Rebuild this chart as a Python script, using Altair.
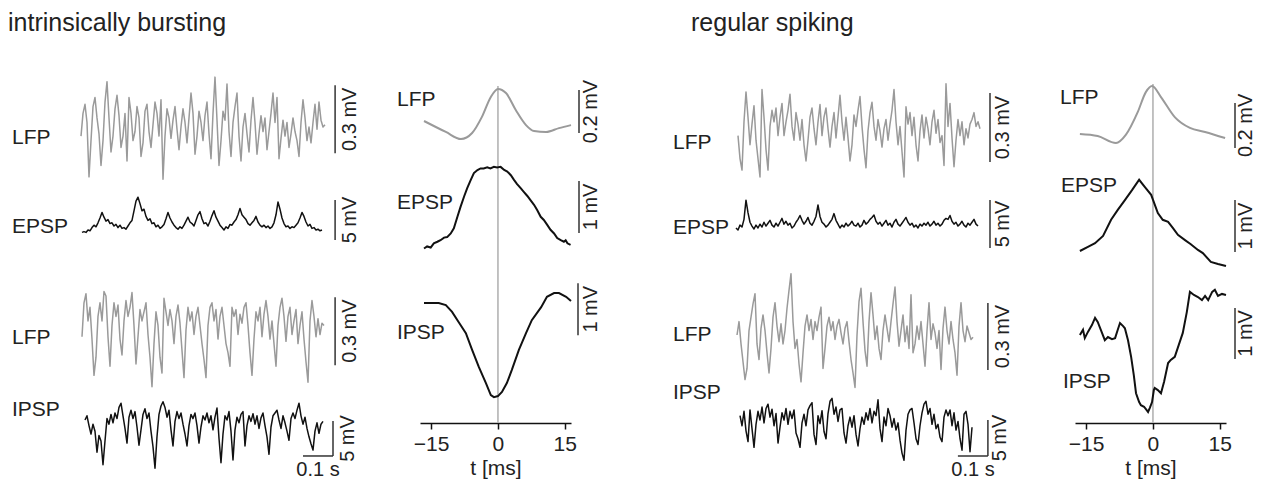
import altair as alt
import pandas as pd

FONT = "Liberation Sans"
GREY = "#9a9a9a"
BLACK = "#111111"
INK = "#222222"
DT = 1 / 150.0  # s per sample

# ---------------- raw traces (LFP in uV, PSP in mV) ----------------
IB_LFP1 = [-40, 60, 100, 20, -220, -60, 90, 130, 40, -30, -170, -60, 110, 200, 40, -110, -40, 80, 140, 50,
           -90, -40, 60, -150, 130, 60, -60, -20, 90, 40, -130, -70, 70, 100, -20, -90, 10, 110, 60, -40,
           120, -230, -40, 80, 40, -50, 30, 90, -10, -100, 0, 80, 20, -70, 40, 150, 60, -120, -40, 70,
           20, -60, 50, 110, -30, -140, 60, 220, 30, -170, -60, 70, 30, 190, -20, -130, 20, 90, 150, -40,
           -150, 0, 60, -30, -110, 30, 130, 20, -120, -30, 50, -20, 40, -100, -20, 60, 150, 20, 130, -140,
           -50, 30, -40, 20, -90, -30, 40, -20, -60, -130, 20, 120, 40, -60, 0, -70, 20, 100, -10, 110,
           30, 0, 10]
IB_EPSP = [-0.3, -0.2, -0.3, 0.0, -0.1, 0.3, 0.6, 0.4, 0.9, 1.5, 2.2, 1.6, 1.1, 1.3, 0.8, 0.9, 0.5, 0.7, 0.3, 0.6,
           0.2, 0.3, 0.1, 0.5, 0.9, 1.2, 2.4, 3.6, 4.1, 3.3, 2.4, 2.6, 1.7, 1.2, 1.4, 0.8, 0.9, 0.4, 0.6, 0.2,
           0.4, 0.7, 1.4, 2.2, 1.5, 1.0, 0.6, 0.3, 0.1, 0.4, 0.2, 0.6, 1.1, 1.6, 1.0, 0.8, 0.5, 1.2, 1.9, 2.3,
           1.4, 0.8, 0.9, 0.5, 1.1, 1.8, 2.4, 1.6, 1.1, 0.6, 0.3, 0.0, 0.4, 0.2, 0.7, 0.6, 1.0, 1.3, 1.9, 2.7,
           1.9, 1.6, 1.3, 0.8, 0.6, 0.9, 1.2, 1.7, 1.0, 0.6, 0.4, 0.6, 0.3, 0.5, 0.2, 0.4, 0.9, 1.9, 3.5, 2.6,
           1.5, 0.8, 0.4, 0.5, 0.2, 0.4, 0.3, 0.6, 0.9, 1.5, 2.2, 1.7, 1.0, 0.5, 0.7, 0.2, 0.3, 0.0, 0.1, -0.1,
           0.0]
IB_LFP2 = [-30, 120, 160, 40, 100, -40, -200, -120, 60, 120, 40, 170, 150, -30, -160, 20, 120, 60, 110, -40,
           -110, 40, 130, 60, 100, 165, 20, -150, -30, 90, 40, 80, 120, -20, -120, -250, -60, 80, 20, -120,
           -190, 140, 80, 20, 90, 40, -60, 60, 110, 30, -90, -210, 0, 100, 40, 80, -20, 60, 100, 20,
           -60, -130, -210, 20, 100, 120, 40, 90, -40, 60, 100, 20, -60, -100, -160, 100, 60, 90, -20, 70,
           30, 100, 120, 20, -100, -200, -40, 80, 40, 100, -30, 70, 130, 60, -40, 40, -60, -160, 20, 100,
           140, 60, -50, 60, 100, -20, 40, 90, -60, 20, 80, -40, -140, -230, 40, 130, 60, -30, 50, -20,
           30, 20]
IB_IPSP = [0.0, 0.6, -0.8, -2.0, -0.6, -1.6, -4.6, -2.2, -3.0, -6.4, -3.0, 0.2, -0.6, 0.8, -0.4, 1.0, 0.2, 1.8, 2.4, 0.6,
           -1.2, -3.3, 0.4, 1.4, 0.2, 1.2, -1.0, -3.6, -1.4, 0.8, 1.6, 0.2, 1.0, -1.6, -3.8, -6.9, -2.4, 0.8, 2.0, 2.6,
           1.8, 0.4, 1.4, -1.4, -3.7, -0.2, 1.2, 0.2, 1.0, -0.6, -2.0, -3.7, -0.8, 0.8, 0.2, 1.0, -0.8, -3.3, -1.0, 0.6,
           0.0, 1.0, -0.4, 0.6, -1.4, 0.4, 1.7, -2.6, -6.1, -2.0, 0.6, 0.0, 1.2, -1.6, -5.7, -1.4, 0.4, -0.4, 0.8, 1.2,
           -3.7, -0.8, 0.6, -0.2, 0.9, -0.6, 0.6, -1.2, 0.3, 1.0, -0.8, -2.4, -4.9, -1.0, 0.6, 1.0, 1.4, 0.0, -1.2, 0.6,
           -0.4, -1.6, -2.9, 0.2, 1.0, 0.2, 1.4, 2.4, 0.6, -0.6, 0.4, -1.2, -2.4, -3.4, -4.3, -1.6, -0.4, -1.9, -0.6, -0.2]

RS_LFP1 = [-20, -120, -170, 40, 170, 60, -60, 30, 110, -40, -120, -200, 180, 60, -80, -170, 20, 90, 40, 100,
           -20, 60, 120, -20, 40, 90, 160, 20, -40, 80, 30, -40, 50, -60, -130, -40, 60, 100, 10, -60,
           40, 115, -20, 60, 100, 10, -70, 20, 80, -30, 60, 155, 40, -40, 60, -30, -130, -60, 70, 20,
           90, 150, 20, -80, -160, 0, 80, 125, 20, -40, 50, 0, -70, 10, 50, -40, 30, 90, 180, 40,
           -60, 20, -90, -200, 105, 30, 80, -20, 60, -60, -130, 0, 70, -30, 60, 10, -60, 40, 90, -10,
           50, -50, -20, -150, 205, 20, 120, -30, -155, -40, 50, -20, 40, -60, 10, -30, 30, 50, 80, 20,
           40, 10]
RS_EPSP = [0.0, -0.2, 0.3, 0.1, 0.9, 2.9, 1.6, 0.6, 0.2, -0.1, 0.3, 0.0, 0.4, 0.1, 0.6, 0.2, 0.5, 0.8, 0.3, 0.1,
           0.5, 0.2, 0.6, 1.0, 0.4, 0.7, 0.3, 0.5, 0.0, 0.2, 0.6, 0.9, 1.3, 0.8, 0.4, 0.7, 1.1, 0.5, 0.3, 0.7,
           1.2, 2.4, 1.2, 0.6, 0.4, 0.1, 0.3, 0.6, 0.9, 1.5, 0.8, 0.4, 0.0, 0.3, 0.1, 0.5, 0.2, 0.4, 0.7, 0.3,
           0.2, 0.5, 0.1, 0.3, 0.8, 0.4, 0.6, 0.9, 1.1, 1.35, 0.7, 0.4, 0.6, 0.2, 0.5, 0.8, 0.3, 0.5, 0.1, 0.6,
           0.9, 0.4, 0.2, 0.5, 0.8, 1.1, 0.6, 0.3, 0.5, 0.1, 0.3, 0.0, 0.4, 0.2, 0.5, 0.3, 0.6, 0.2, 0.4, 0.7,
           0.3, 0.5, 0.2, 0.4, 0.8, 1.0, 0.9, 1.3, 0.7, 0.4, 0.6, 0.2, 0.4, 0.7, 0.3, 0.1, 0.5, 0.3, 0.6, 0.9,
           0.4, 0.2]
RS_LFP2 = [0, 60, -40, -120, -200, -150, 20, 80, 140, 185, -40, -110, 30, 90, 20, -80, -170, -60, 80, 145,
           40, -30, 50, -40, 20, 120, 200, 275, 60, -60, -20, -130, -210, -80, 40, 90, 20, 70, -20, 60,
           20, 80, 125, -150, -60, 40, 80, 20, 60, -20, 40, 70, 10, -40, 30, 60, -30, -110, -170, -235,
           0, 150, 210, 60, -70, -140, 60, 190, 90, -20, 40, -60, -110, 20, 90, 30, -30, 60, 140, 215,
           60, -50, 20, 90, -30, 40, -60, 180, -80, -40, 40, -20, 60, -40, -140, 20, 145, -20, 50, 10,
           -60, 20, -155, 30, 125, 20, -40, 60, -20, -80, -180, 40, 145, 20, -30, 40, 10, -20, -10]
RS_IPSP = [0.6, -0.8, 1.2, -1.5, -3.0, 1.4, -1.2, -3.8, -0.6, 1.2, 0.0, 1.8, -0.4, 1.6, 2.2, 0.4, 1.5, -0.8, 0.9, -3.2,
           -1.0, 1.0, 0.0, 1.6, -0.6, 1.2, 0.2, 1.4, -1.8, -2.6, -3.8, -0.4, 0.8, -0.8, 1.4, 2.0, 2.4, -2.0, -3.4, 0.6,
           -0.5, 1.3, -1.6, -2.6, 0.9, 2.6, 3.0, 0.8, 1.8, -0.2, 1.4, 1.6, -1.8, -3.2, -0.8, 0.4, -1.0, 0.6, -2.0, -3.6,
           -1.2, 0.4, -0.6, 1.0, 0.0, 1.6, -0.4, 1.2, 0.6, 2.8, -1.2, -3.0, 0.4, -0.8, 1.6, 0.6, -1.0, 0.2, -1.4, -0.4,
           -2.8, -4.6, -5.6, -1.4, 0.8, 1.4, 1.6, -0.4, -2.6, -3.4, -0.8, 1.0, 2.2, 2.6, 0.8, 1.6, -0.6, 0.8, -1.2, -0.6,
           -2.4, -3.0, 0.4, 1.4, 0.6, 1.4, -0.8, 1.0, -1.4, -0.2, -2.6, -4.2, 0.8, 1.2, -0.6, -4.4, -1.0]

# ---------------- spike-triggered averages (t in ms) ----------------
IB_AVG_LFP_T = [-16.6, -11.7, -8.3, -5.8, -3.6, -1.6, 0.0, 1.8, 4.0, 6.3, 8.1, 10.8, 13.7, 16.4]
IB_AVG_LFP_V = [0, -51, -84, -56, 19, 112, 149, 130, 51, -19, -47, -51, -33, -19]
IB_AVG_EPSP_T = [-16.6, -15.9, -15.1, -14.4, -13.6, -12.9, -12.1, -11.4, -10.6, -9.9, -9.1, -8.4, -7.6, -6.9,
                 -6.1, -5.4, -4.6, -3.9, -3.2, -2.4, -1.7, -0.9, -0.2, 0.6, 1.4, 2.1, 2.9, 3.6, 4.3, 5.1,
                 5.8, 6.6, 7.3, 8.1, 8.8, 9.6, 10.3, 11.1, 11.8, 12.6, 13.3, 14.1, 14.8, 15.2, 15.6, 16.3]
IB_AVG_EPSP_V = [-0.01, 0.03, 0.01, 0.09, 0.12, 0.15, 0.20, 0.21, 0.28, 0.38, 0.60, 0.79, 0.99, 1.15,
                 1.31, 1.44, 1.50, 1.53, 1.53, 1.55, 1.53, 1.56, 1.55, 1.56, 1.50, 1.47, 1.40, 1.31, 1.23, 1.15,
                 1.08, 1.00, 0.92, 0.83, 0.73, 0.60, 0.54, 0.44, 0.35, 0.28, 0.19, 0.15, 0.12, 0.15, 0.09, 0.06]
IB_AVG_IPSP_T = [-16.6, -15.1, -13.3, -11.7, -10.3, -8.8, -7.2, -5.8, -4.3, -2.7, -1.6, -0.9, 0.0, 0.9, 2.0,
                 3.1, 4.7, 6.3, 7.6, 9.7, 11.0, 12.6, 13.7, 15.3, 16.4]
IB_AVG_IPSP_V = [0.0, 0.0, 0.0, -0.04, -0.17, -0.37, -0.58, -0.90, -1.23, -1.54, -1.77, -1.81, -1.79, -1.71,
                 -1.54, -1.29, -0.90, -0.58, -0.33, -0.08, 0.12, 0.19, 0.19, 0.12, 0.04]

RS_AVG_LFP_T = [-16.4, -12.4, -8.3, -6.1, -3.4, -1.6, -0.2, 1.8, 4.9, 8.3, 11.7, 16.2]
RS_AVG_LFP_V = [0, -9, -40, -4, 98, 186, 213, 164, 75, 27, 9, -18]
RS_AVG_EPSP_T = [-16.4, -14.6, -13.0, -11.2, -9.4, -7.9, -6.3, -4.7, -3.1, -1.8, -0.4, 1.1, 2.2, 3.4, 4.5,
                 5.6, 7.2, 8.5, 10.1, 11.2, 13.0, 14.6, 16.4]
RS_AVG_EPSP_V = [0.0, 0.08, 0.15, 0.29, 0.60, 0.79, 0.98, 1.17, 1.37, 1.23, 1.08, 0.73, 0.60, 0.56, 0.44,
                 0.31, 0.21, 0.13, 0.02, -0.04, -0.21, -0.25, -0.29]
RS_AVG_IPSP_T = [-16.4, -15.7, -15.3, -14.6, -13.7, -13.0, -12.4, -11.7, -10.8, -10.1, -9.2, -8.5, -7.9, -7.4,
                 -6.7, -6.3, -5.6, -4.9, -4.3, -3.8, -3.1, -2.7, -2.0, -1.1, -0.7, -0.2, 0.2, 0.4, 1.1, 1.8,
                 2.5, 3.4, 4.0, 4.9, 5.8, 6.7, 7.6, 8.3, 9.2, 10.1, 11.0, 11.7, 12.4, 13.3, 13.9, 14.6, 15.5, 16.4]
RS_AVG_IPSP_V = [0.0, 0.10, -0.06, 0.06, 0.19, 0.33, 0.25, 0.10, -0.10, -0.04, -0.08, -0.06, 0.10, 0.23,
                 0.17, 0.13, -0.10, -0.42, -0.77, -1.12, -1.29, -1.35, -1.38, -1.48, -1.40, -1.29, -1.06, -1.02,
                 -1.06, -1.12, -0.90, -0.54, -0.48, -0.42, -0.19, 0.04, 0.44, 0.83, 0.77, 0.73, 0.67, 0.75,
                 0.67, 0.83, 0.87, 0.75, 0.79, 0.77]

TITLES = ["intrinsically bursting", "regular spiking"]

RAW_W = 279
RAW_XDOM = [0, 0.93]
AVG_W = 151
AVG_XDOM = [-17.5, 16.4]
LAB = 21


def txt(s, x, y, size=LAB, align="left", angle=0):
    kw = dict(align=align, baseline="middle", fontSize=size, font=FONT, color=INK)
    if angle:
        kw["angle"] = angle
    return alt.Chart(pd.DataFrame({"s": [s]})).mark_text(**kw).encode(
        x=alt.value(x), y=alt.value(y), text="s:N")


def raw_panel(vals, t0, color, h, zero_px, ppu, label, lab_x, lab_y,
              bar_t, bar_lo, bar_hi, bar_txt, bar_txt_x, tbar=None, title=None):
    ydom = [-(h - zero_px) / ppu, zero_px / ppu]
    xs = alt.Scale(domain=RAW_XDOM, nice=False, zero=False)
    ys = alt.Scale(domain=ydom, nice=False, zero=False)
    df = pd.DataFrame({"t": [t0 + i * DT for i in range(len(vals))], "v": vals})
    line = alt.Chart(df).mark_line(color=color, strokeWidth=1.5, strokeJoin="round").encode(
        x=alt.X("t:Q", scale=xs, axis=None), y=alt.Y("v:Q", scale=ys, axis=None))
    bar = alt.Chart(pd.DataFrame({"t": [bar_t], "v": [bar_lo], "v2": [bar_hi]})).mark_rule(
        color="#333333", strokeWidth=1.5).encode(
        x=alt.X("t:Q", scale=xs, axis=None), y=alt.Y("v:Q", scale=ys, axis=None), y2="v2:Q")
    btxt = alt.Chart(pd.DataFrame({"v": [(bar_lo + bar_hi) / 2], "s": [bar_txt]})).mark_text(
        angle=270, fontSize=20, font=FONT, color=INK, align="center", baseline="middle").encode(
        x=alt.value(bar_txt_x), y=alt.Y("v:Q", scale=ys, axis=None), text="s:N")
    layers = [line, bar, btxt, txt(label, lab_x, lab_y)]
    if tbar is not None:
        t1, t2, tlabel, tx, ty = tbar
        hb = alt.Chart(pd.DataFrame({"t": [t1], "t2": [t2], "v": [bar_lo]})).mark_rule(
            color="#333333", strokeWidth=1.5).encode(
            x=alt.X("t:Q", scale=xs, axis=None), x2="t2:Q", y=alt.Y("v:Q", scale=ys, axis=None))
        layers += [hb, txt(tlabel, tx, ty, size=20, align="center")]
    if title is not None:
        s, tx, ty = title
        layers.append(txt(s, tx, ty, size=25))
    return alt.layer(*layers).properties(width=RAW_W, height=h)


def avg_panel(t, v, color, h, zero_px, ppu, label, lab_x, lab_y, bar_x, bar_lo, bar_hi, bar_txt,
              bar_txt_x, vtop=0, axis=False, interp="linear"):
    ydom = [-(h - zero_px) / ppu, zero_px / ppu]
    xs = alt.Scale(domain=AVG_XDOM, nice=False, zero=False)
    ys = alt.Scale(domain=ydom, nice=False, zero=False)
    if axis:
        ax = alt.Axis(values=[-15, 0, 15], title="t [ms]", grid=False, tickSize=6, tickWidth=1.5,
                      domainWidth=1.5, domainColor=BLACK, tickColor=BLACK, labelColor=INK,
                      titleColor=INK, labelFont=FONT, titleFont=FONT, labelFontSize=21,
                      titleFontSize=21, titleFontWeight="normal", labelPadding=4, titlePadding=3)
    else:
        ax = None
    vline = alt.Chart(pd.DataFrame({"t": [0.0]})).mark_rule(color="#b3b3b3", strokeWidth=1.6).encode(
        x=alt.X("t:Q", scale=xs, axis=ax), y=alt.value(vtop), y2=alt.value(h))
    df = pd.DataFrame({"t": t, "v": v})
    line = alt.Chart(df).mark_line(color=color, strokeWidth=2, interpolate=interp).encode(
        x=alt.X("t:Q", scale=xs, axis=ax), y=alt.Y("v:Q", scale=ys, axis=None))
    bar = alt.Chart(pd.DataFrame({"v": [bar_lo], "v2": [bar_hi]})).mark_rule(
        color="#333333", strokeWidth=1.5).encode(
        x=alt.value(bar_x), y=alt.Y("v:Q", scale=ys, axis=None), y2="v2:Q")
    btxt = alt.Chart(pd.DataFrame({"v": [(bar_lo + bar_hi) / 2], "s": [bar_txt]})).mark_text(
        angle=270, fontSize=20, font=FONT, color=INK, align="center", baseline="middle").encode(
        x=alt.value(bar_txt_x), y=alt.Y("v:Q", scale=ys, axis=None), text="s:N")
    return alt.layer(vline, line, bar, btxt, txt(label, lab_x, lab_y)).properties(width=AVG_W, height=h)


# ---------------- intrinsically bursting ----------------
ib_raw = alt.vconcat(
    raw_panel(IB_LFP1, 0.0, GREY, 120, 57, 0.2267, "LFP", -69, 68, 0.847, -116, 184, "0.3 mV", 269,
              title=(TITLES[0], -73, -47)),
    raw_panel(IB_EPSP, 0.0033, BLACK, 55, 40, 8.0, "EPSP", -69, 37, 0.847, -1.25, 3.75, "5 mV", 269),
    raw_panel(IB_LFP2, 0.0033, GREY, 150, 85, 0.2267, "LFP", -69, 93, 0.847, -155, 145, "0.3 mV", 269),
    raw_panel(IB_IPSP, 0.0133, BLACK, 85, 25, 7.0, "IPSP", -69, 15, 0.84, -5.14, -0.14, "5 mV", 267,
              tbar=(0.74, 0.84, "0.1 s", 237, 75)),
    spacing=0, bounds="flush")

ib_avg = alt.vconcat(
    avg_panel(IB_AVG_LFP_T, IB_AVG_LFP_V, GREY, 85, 51, 0.215, "LFP", -23, 30, 159, -56, 144, "0.2 mV",
              171, vtop=16, interp="monotone"),
    avg_panel(IB_AVG_EPSP_T, IB_AVG_EPSP_V, BLACK, 110, 93, 52.0, "EPSP", -23, 48, 159, 0.29, 1.29,
              "1 mV", 171),
    avg_panel(IB_AVG_IPSP_T, IB_AVG_IPSP_V, BLACK, 158, 38, 52.0, "IPSP", -23, 68, 158, -0.62, 0.38,
              "1 mV", 171, axis=True),
    spacing=0, bounds="flush")

# ---------------- regular spiking ----------------
rs_raw = alt.vconcat(
    raw_panel(RS_LFP1, 0.0, GREY, 120, 61, 0.23, "LFP", -65, 73, 0.84, -135, 165, "0.3 mV", 265,
              title=(TITLES[1], -47, -47)),
    raw_panel(RS_EPSP, -0.0067, BLACK, 55, 38, 9.6, "EPSP", -65, 38, 0.84, -2.08, 2.92, "5 mV", 265),
    raw_panel(RS_LFP2, -0.0033, GREY, 150, 90, 0.223, "LFP", -65, 90, 0.833, -157, 143, "0.3 mV", 265),
    raw_panel(RS_IPSP, 0.0067, BLACK, 85, 25, 7.2, "IPSP", -65, -2, 0.833, -5.0, 0.0, "5 mV", 262,
              tbar=(0.733, 0.833, "0.1 s", 235, 75)),
    spacing=0, bounds="flush")

rs_avg = alt.vconcat(
    avg_panel(RS_AVG_LFP_T, RS_AVG_LFP_V, GREY, 85, 64, 0.2252, "LFP", -15, 28, 160, -62, 138, "0.2 mV",
              171, vtop=14, interp="monotone"),
    avg_panel(RS_AVG_EPSP_T, RS_AVG_EPSP_V, BLACK, 110, 96, 52.0, "EPSP", -14, 31, 160, -0.02, 0.98,
              "1 mV", 171),
    avg_panel(RS_AVG_IPSP_T, RS_AVG_IPSP_V, BLACK, 158, 70, 52.0, "IPSP", -12, 117, 160, -0.46, 0.52,
              "1 mV", 171, axis=True),
    spacing=0, bounds="flush")

chart = alt.hconcat(
    alt.hconcat(ib_raw, ib_avg, spacing=37),
    alt.hconcat(rs_raw, rs_avg, spacing=43),
    spacing=72,
).properties(padding={"top": 3, "left": 0, "right": 0, "bottom": 0},
             background="white").configure_view(stroke=None)

chart.save("out.html", embed_options={"renderer": "svg", "actions": False})
